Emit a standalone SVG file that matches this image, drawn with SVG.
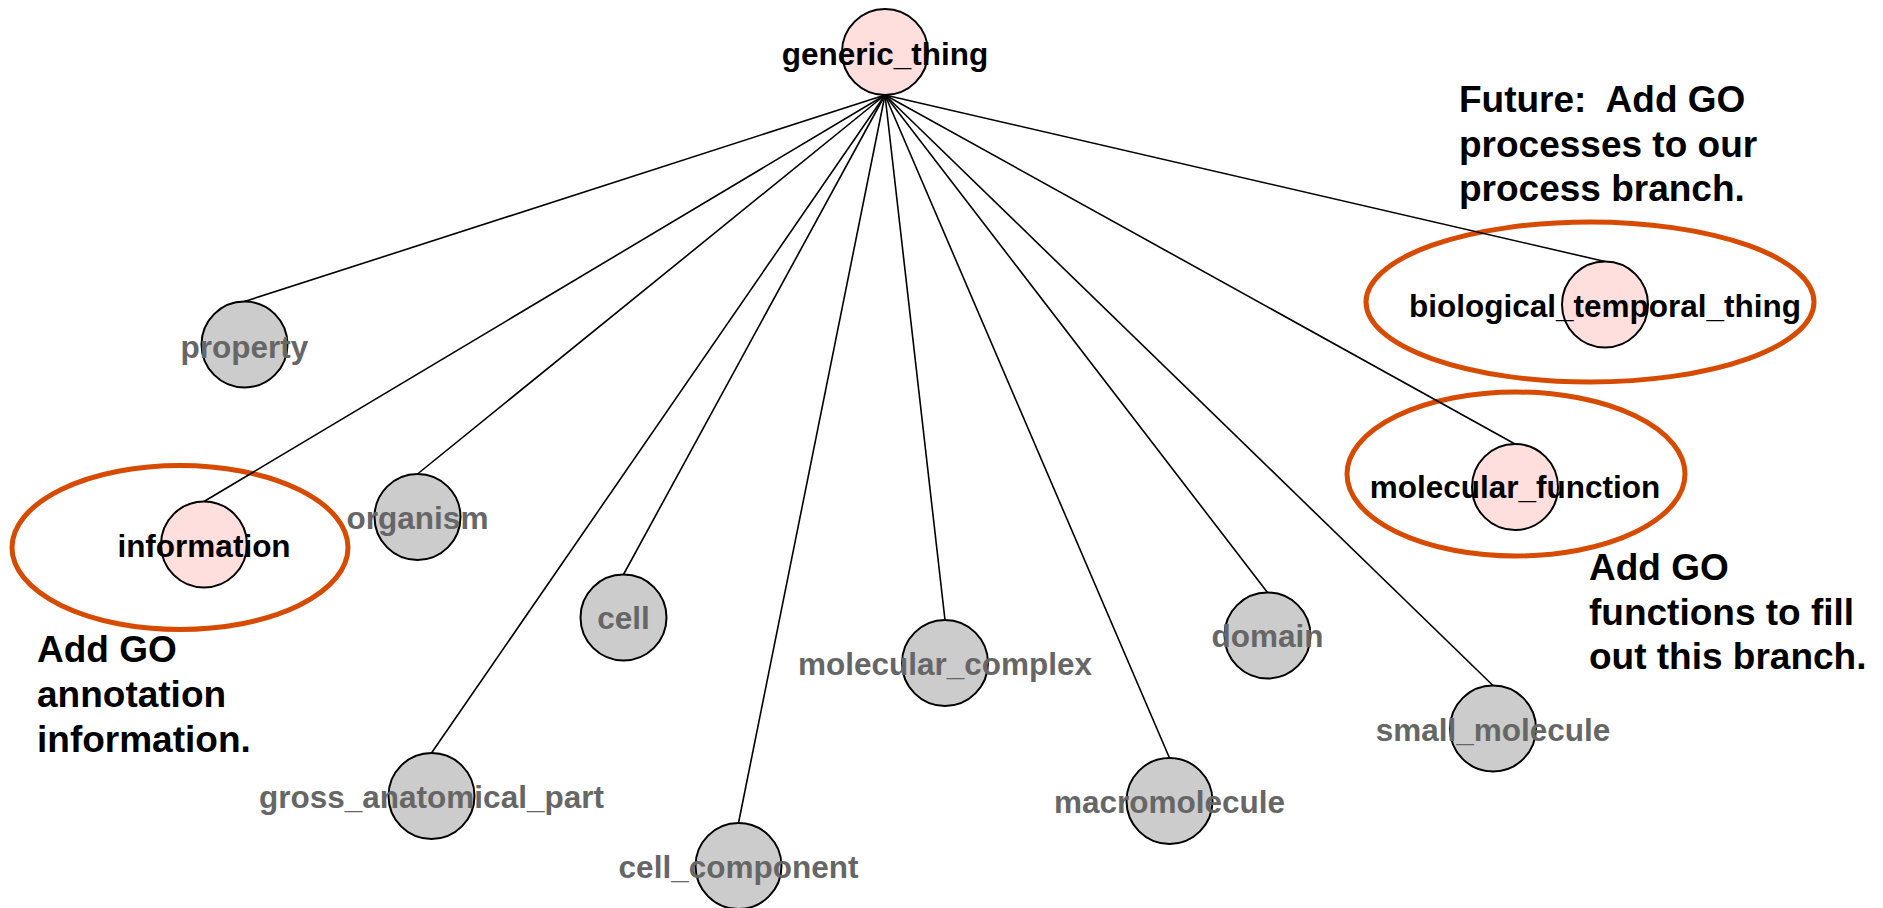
<svg xmlns="http://www.w3.org/2000/svg" width="1883" height="908" viewBox="0 0 1883 908">
<style>
.bg{fill:#ffffff}
.edge{stroke:#000000;stroke-width:1.6;fill:none}
.pink{fill:#ffdede;stroke:#000000;stroke-width:2}
.gray{fill:#cccccc;stroke:#000000;stroke-width:2}
.lblk{font-family:"Liberation Sans",Arial,sans-serif;font-weight:bold;font-size:31.5px;fill:#000000;text-anchor:middle}
.lgry{font-family:"Liberation Sans",Arial,sans-serif;font-weight:bold;font-size:31.5px;fill:#666666;text-anchor:middle}
.hl{fill:none;stroke:#d64b00;stroke-width:5}
.note{font-family:"Liberation Sans",Arial,sans-serif;font-weight:bold;font-size:37px;fill:#000000;white-space:pre}
</style>
<rect class="bg" x="0" y="0" width="1883" height="908"/>
<g id="highlights">
<ellipse class="hl" cx="180" cy="547.5" rx="168" ry="82"/>
<ellipse class="hl" cx="1590" cy="302" rx="224" ry="80"/>
<ellipse class="hl" cx="1516" cy="474" rx="169" ry="82"/>
</g>
<g id="connectors">
<line class="edge" x1="885" y1="95" x2="244.5" y2="301.5"/>
<line class="edge" x1="885" y1="95" x2="204" y2="501.5"/>
<line class="edge" x1="885" y1="95" x2="417.5" y2="474"/>
<line class="edge" x1="885" y1="95" x2="623.5" y2="574.5"/>
<line class="edge" x1="885" y1="95" x2="431.5" y2="753"/>
<line class="edge" x1="885" y1="95" x2="738.5" y2="823"/>
<line class="edge" x1="885" y1="95" x2="945" y2="620"/>
<line class="edge" x1="885" y1="95" x2="1169.5" y2="758"/>
<line class="edge" x1="885" y1="95" x2="1267.5" y2="592.5"/>
<line class="edge" x1="885" y1="95" x2="1493" y2="685.5"/>
<line class="edge" x1="885" y1="95" x2="1515" y2="444"/>
<line class="edge" x1="885" y1="95" x2="1605" y2="261.5"/>
</g>
<g id="generic_thing"><circle class="pink" cx="885" cy="52" r="43"/><text class="lblk" x="885" y="65">generic_thing</text></g>
<g id="property"><circle class="gray" cx="244.5" cy="344.5" r="43"/><text class="lgry" x="244.5" y="358">property</text></g>
<g id="information"><circle class="pink" cx="204" cy="544.5" r="43"/><text class="lblk" x="204" y="557">information</text></g>
<g id="organism"><circle class="gray" cx="417.5" cy="517" r="43"/><text class="lgry" x="417.5" y="529">organism</text></g>
<g id="cell"><circle class="gray" cx="623.5" cy="617.5" r="43"/><text class="lgry" x="623.5" y="629">cell</text></g>
<g id="gross_anatomical_part"><circle class="gray" cx="431.5" cy="796" r="43"/><text class="lgry" x="431.5" y="808">gross_anatomical_part</text></g>
<g id="cell_component"><circle class="gray" cx="738.5" cy="866" r="43"/><text class="lgry" x="738.5" y="878">cell_component</text></g>
<g id="molecular_complex"><circle class="gray" cx="945" cy="663" r="43"/><text class="lgry" x="945" y="675">molecular_complex</text></g>
<g id="macromolecule"><circle class="gray" cx="1169.5" cy="801" r="43"/><text class="lgry" x="1169.5" y="813">macromolecule</text></g>
<g id="domain"><circle class="gray" cx="1267.5" cy="635.5" r="43"/><text class="lgry" x="1267.5" y="647">domain</text></g>
<g id="small_molecule"><circle class="gray" cx="1493" cy="728.5" r="43"/><text class="lgry" x="1493" y="741">small_molecule</text></g>
<g id="molecular_function"><circle class="pink" cx="1515" cy="487" r="43"/><text class="lblk" x="1515" y="498">molecular_function</text></g>
<g id="biological_temporal_thing"><circle class="pink" cx="1605" cy="304.5" r="43"/><text class="lblk" x="1605" y="317">biological_temporal_thing</text></g>
<g id="notes">
<text class="note" x="1459" y="112" xml:space="preserve">Future:  Add GO</text>
<text class="note" x="1459" y="157">processes to our</text>
<text class="note" x="1459" y="201">process branch.</text>
<text class="note" x="1589" y="580">Add GO</text>
<text class="note" x="1589" y="625">functions to fill</text>
<text class="note" x="1589" y="669">out this branch.</text>
<text class="note" x="37" y="662">Add GO</text>
<text class="note" x="37" y="707">annotation</text>
<text class="note" x="37" y="752">information.</text>
</g>
</svg>
